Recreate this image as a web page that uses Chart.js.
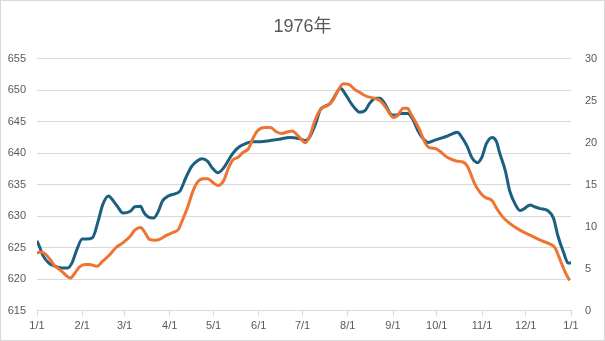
<!DOCTYPE html>
<html>
<head>
<meta charset="utf-8">
<script src="https://cdn.jsdelivr.net/npm/chart.js@4"></script>
<style>
  html, body { margin: 0; padding: 0; background: #fff; }
  #wrap { width: 605px; height: 341px; position: relative; }
</style>
</head>
<body>
<div id="wrap"><canvas id="chart"></canvas></div>
<script>
const title = "1976年"

// day of year (0 = 1/1) and values
const leftDays = [0, 2, 4, 8, 12, 17, 21, 24, 27, 31, 34, 38, 42, 45, 49, 51, 55, 59, 64, 67, 71, 73, 76, 80, 83, 86, 90, 95, 98, 102, 106, 110, 113, 117, 120, 124, 128, 131, 134, 138, 143, 147, 153, 160, 166, 173, 180, 184, 187, 191, 194, 197, 201, 204, 208, 211, 215, 218, 221, 225, 228, 232, 235, 239, 242, 245, 250, 254, 258, 261, 265, 268, 272, 276, 282, 285, 288, 291, 295, 298, 302, 305, 308, 312, 315, 317, 321, 324, 328, 331, 334, 338, 341, 345, 350, 354, 357, 361, 364, 366]
const leftValues = [626.1, 625.0, 623.8, 622.6, 622.1, 621.8, 621.8, 622.6, 624.5, 626.4, 626.4, 626.6, 629.3, 631.8, 633.2, 632.8, 631.6, 630.5, 630.8, 631.5, 631.6, 630.7, 629.9, 629.7, 630.7, 632.4, 633.2, 633.6, 634.0, 636.1, 637.9, 638.8, 639.1, 638.7, 637.7, 636.9, 637.7, 638.8, 639.9, 640.9, 641.5, 641.8, 641.8, 642.0, 642.2, 642.5, 642.3, 642.0, 642.6, 644.7, 646.8, 647.4, 647.9, 649.0, 650.3, 649.5, 648.0, 647.1, 646.5, 646.8, 647.9, 648.7, 648.7, 647.6, 646.3, 646.0, 646.3, 646.3, 645.2, 643.6, 642.2, 641.7, 642.0, 642.3, 642.8, 643.1, 643.3, 642.6, 641.0, 639.3, 638.5, 639.4, 641.5, 642.5, 641.8, 640.1, 637.2, 634.0, 631.8, 630.9, 631.2, 631.8, 631.5, 631.2, 630.9, 629.7, 626.9, 624.2, 622.6, 622.6]

const rightDays = [0, 3, 6, 9, 12, 17, 20, 23, 26, 29, 33, 36, 41, 45, 50, 54, 59, 64, 67, 71, 74, 77, 81, 84, 89, 93, 97, 99, 103, 107, 110, 114, 117, 121, 124, 128, 131, 134, 138, 141, 145, 148, 151, 156, 160, 164, 168, 172, 175, 179, 184, 187, 190, 193, 196, 199, 203, 206, 210, 214, 218, 221, 226, 231, 235, 239, 242, 244, 247, 251, 254, 256, 259, 262, 266, 269, 273, 276, 280, 283, 288, 292, 295, 297, 300, 304, 307, 312, 315, 319, 324, 331, 338, 345, 352, 355, 358, 362, 365]
const rightValues = [6.9, 7.0, 6.7, 6.1, 5.4, 4.7, 4.2, 3.9, 4.5, 5.2, 5.5, 5.5, 5.3, 5.9, 6.7, 7.5, 8.1, 8.9, 9.6, 9.9, 9.3, 8.5, 8.4, 8.5, 9.0, 9.3, 9.7, 10.5, 12.2, 14.3, 15.3, 15.7, 15.7, 15.2, 14.9, 15.5, 16.9, 17.9, 18.3, 18.8, 19.3, 20.5, 21.4, 21.8, 21.8, 21.3, 21.1, 21.3, 21.4, 20.8, 20.0, 20.8, 22.4, 23.6, 24.2, 24.4, 25.1, 26.1, 27.0, 26.9, 26.3, 26.0, 25.5, 25.3, 25.0, 24.2, 23.4, 23.0, 23.2, 24.1, 24.1, 23.5, 22.6, 21.6, 20.0, 19.4, 19.3, 19.0, 18.4, 18.1, 17.8, 17.7, 17.2, 16.4, 15.1, 14.0, 13.5, 13.1, 12.2, 11.2, 10.4, 9.6, 9.0, 8.4, 7.9, 7.5, 6.3, 4.6, 3.6]

const monthDays = [0, 31, 60, 91, 121, 152, 182, 213, 244, 274, 305, 335, 366]
const monthLabels = ["1/1", "2/1", "3/1", "4/1", "5/1", "6/1", "7/1", "8/1", "9/1", "10/1", "11/1", "12/1", "1/1"]

const textColor = "#595959"
const gridColor = "#d9d9d9"

const border = {
  id: "border",
  afterDraw(chart) {
    const ctx = chart.ctx
    ctx.save()
    ctx.strokeStyle = gridColor
    ctx.lineWidth = 1
    ctx.strokeRect(0.5, 0.5, chart.width - 1, chart.height - 1)
    ctx.restore()
  }
}

new Chart(document.getElementById("chart"), {
  type: "line",
  data: {
    datasets: [{
      data: leftDays.map((d, i) => ({ x: d, y: leftValues[i] })),
      yAxisID: "y",
      borderColor: "#1d5f80",
      borderWidth: 3,
      pointRadius: 0,
      cubicInterpolationMode: "monotone",
      order: 2
    }, {
      data: rightDays.map((d, i) => ({ x: d, y: rightValues[i] })),
      yAxisID: "y2",
      borderColor: "#ee7433",
      borderWidth: 3,
      pointRadius: 0,
      cubicInterpolationMode: "monotone",
      order: 1
    }]
  },
  options: {
    responsive: true,
    maintainAspectRatio: false,
    animation: false,
    layout: { padding: { left: 0, right: 0, top: 0, bottom: 4 } },
    plugins: {
      legend: { display: false },
      tooltip: { enabled: false },
      title: {
        display: true,
        text: title,
        color: textColor,
        font: { family: "'Liberation Sans', 'Noto Sans CJK JP', sans-serif", size: 18, weight: "normal" },
        padding: { top: 16, bottom: 21 }
      }
    },
    scales: {
      x: {
        type: "linear",
        min: 0,
        max: 366,
        afterBuildTicks: (scale) => { scale.ticks = monthDays.map(v => ({ value: v })) },
        ticks: {
          autoSkip: false,
          maxRotation: 0,
          padding: 4,
          color: textColor,
          font: { family: "'Liberation Sans', sans-serif", size: 11 },
          callback: (value) => monthLabels[monthDays.indexOf(value)]
        },
        grid: { drawOnChartArea: false, drawTicks: true, tickLength: 5, color: gridColor },
        border: { color: gridColor }
      },
      y: {
        position: "left",
        min: 615,
        max: 655,
        afterFit: (scale) => { scale.width = 37 },
        ticks: {
          stepSize: 5,
          padding: 11,
          color: textColor,
          font: { family: "'Liberation Sans', sans-serif", size: 11 }
        },
        grid: { color: gridColor, drawTicks: false },
        border: { display: false }
      },
      y2: {
        position: "right",
        min: 0,
        max: 30,
        afterFit: (scale) => { scale.width = 34 },
        ticks: {
          stepSize: 5,
          padding: 14,
          color: textColor,
          font: { family: "'Liberation Sans', sans-serif", size: 11 }
        },
        grid: { drawOnChartArea: false, drawTicks: false },
        border: { display: false }
      }
    }
  },
  plugins: [border]
})
</script>
</body>
</html>
